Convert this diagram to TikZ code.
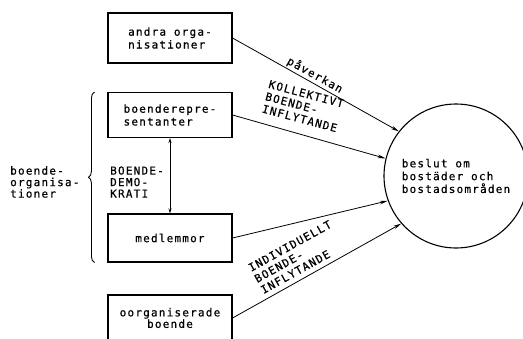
\documentclass[tikz,border=0pt]{standalone}
\usepackage{fontspec}
\newfontfamily\df[LetterSpace=11,FakeBold=0.6]{DejaVu Sans Mono}
\usetikzlibrary{arrows.meta,decorations.pathreplacing}
\begin{document}
\begin{tikzpicture}[x=1pt,y=-1pt,
  box/.style={draw,line width=1.1pt,inner sep=0pt,minimum width=124pt},
  txt/.style={font=\df\fontsize{11}{12.8}\selectfont},
  tight/.style={font=\df\fontsize{11}{11.5}\selectfont},
  lab/.style={font=\df\fontsize{11}{12.7}\selectfont,inner sep=0pt},
  arr/.style={line width=0.8pt,-{Stealth[length=8pt,width=3.6pt]}},
]
\useasboundingbox (0,0) rectangle (523,338);
\node[box,txt,minimum height=50pt,align=left] (b1) at (170,38) {andra orga-\\nisationer};
\node[box,txt,minimum height=45pt,align=left] (b2) at (170,115) {boenderepre-\\sentanter};
\node[box,txt,minimum height=48pt] (b3) at (170,238) {medlemmor};
\node[box,tight,minimum height=46pt,align=center] (b4) at (170,318) {oorganiserade\\boende};
\node[draw,circle,line width=1.1pt,minimum size=144pt,inner sep=0pt,txt,align=left] (c) at (456,176) {beslut om\\bostäder och\\bostadsområden};
\draw[arr] (b1.east) -- (c.142);
\draw[arr] (b2.east) -- (c.166);
\draw[arr] (b3.east) -- (c.200);
\draw[arr] (b4.east) -- (c.221);
\draw[line width=0.8pt,{Stealth[length=5pt,width=3pt]}-{Stealth[length=5pt,width=3pt]}] (b2.south) -- (b3.north);
\draw[line width=0.9pt,decorate,decoration={brace,amplitude=6pt}] ([xshift=-13pt]b3.south west) -- ([xshift=-13pt]b2.north west);
\node[tight,inner sep=0pt,align=left,anchor=west] (org) at (10,182) {boende-\\organisa-\\tioner};
\node[tight,inner sep=0pt,align=left,anchor=west] (dem) at (110,182) {BOENDE-\\DEMO-\\KRATI};
\node[lab,rotate=-29] (pv) at (315,75) {påverkan};
\node[lab,rotate=-15,align=left] (kb) at (303,106) {KOLLEKTIVT\\BOENDE-\\INFLYTANDE};
\node[lab,rotate=29,align=left] (ib) at (296,257) {INDIVIDUELLT\\BOENDE-\\INFLYTANDE};
\end{tikzpicture}
\end{document}
